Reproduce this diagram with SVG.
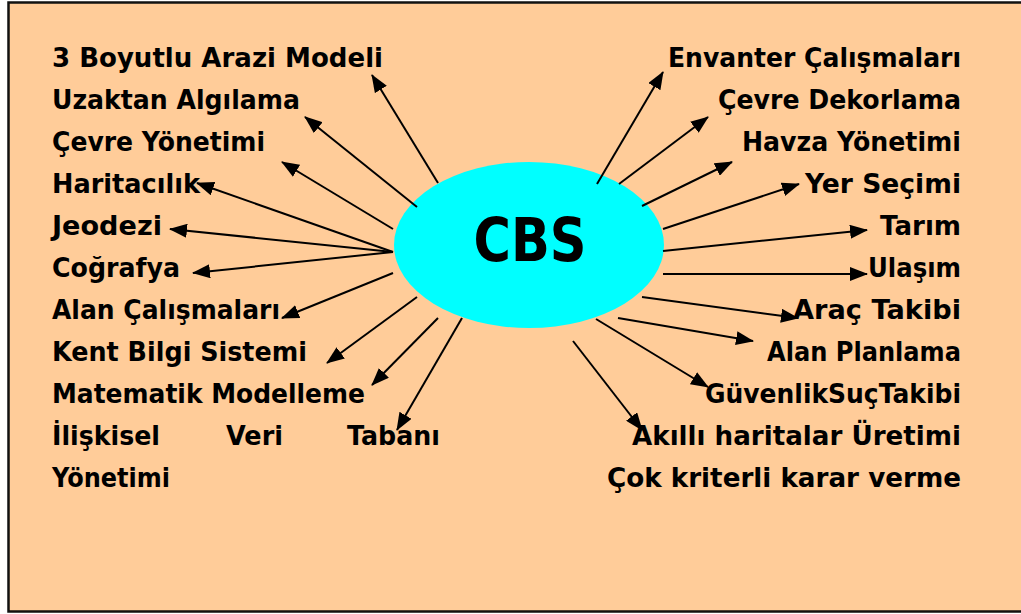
<svg xmlns="http://www.w3.org/2000/svg" width="1021" height="614" viewBox="0 0 1021 614">
<defs>
<style>
.lbl{font-family:"DejaVu Sans","Liberation Sans",sans-serif;font-weight:bold;font-size:27px;fill:#000}
.r{text-anchor:end}
.cbs{font-family:"DejaVu Sans","Liberation Sans",sans-serif;font-weight:bold;font-size:60px;fill:#000;text-anchor:middle}
.con line{stroke:#000;stroke-width:2;marker-end:url(#ah)}
</style>
<marker id="ah" markerWidth="18" markerHeight="14" refX="17" refY="7" orient="auto" markerUnits="userSpaceOnUse"><path d="M0,0 L18,7 L0,14 z" fill="#000"/></marker>
</defs>
<rect x="8.5" y="2.5" width="1020" height="609" fill="#FFCC99" stroke="#111" stroke-width="2.5"/>
<g id="center">
<ellipse cx="529" cy="245" rx="135" ry="83" fill="#00FFFF"/>
<text class="cbs" x="530" y="261" textLength="113" lengthAdjust="spacingAndGlyphs">CBS</text>
</g>
<g class="con" id="connectors">
<line x1="438" y1="183" x2="372" y2="75"/>
<line x1="417" y1="207" x2="305" y2="117"/>
<line x1="393" y1="229" x2="282" y2="162"/>
<line x1="393" y1="252" x2="197" y2="183"/>
<line x1="393" y1="252" x2="170" y2="229"/>
<line x1="393" y1="252" x2="193" y2="273"/>
<line x1="393" y1="273" x2="282" y2="318"/>
<line x1="417" y1="297" x2="327" y2="363"/>
<line x1="438" y1="318" x2="372" y2="385"/>
<line x1="462" y1="318" x2="397" y2="430"/>
<line x1="597" y1="184" x2="663" y2="72"/>
<line x1="619" y1="184" x2="708" y2="117"/>
<line x1="642" y1="206" x2="732" y2="162"/>
<line x1="663" y1="229" x2="799" y2="184"/>
<line x1="663" y1="251" x2="867" y2="230"/>
<line x1="663" y1="274" x2="867" y2="274"/>
<line x1="642" y1="297" x2="798" y2="318"/>
<line x1="618" y1="318" x2="753" y2="341"/>
<line x1="596" y1="319" x2="708" y2="387"/>
<line x1="573" y1="341" x2="642" y2="430"/>
</g>
<g id="left-labels">
<text id="l1" class="lbl" x="52" y="67" textLength="331" lengthAdjust="spacingAndGlyphs">3 Boyutlu Arazi Modeli</text>
<text id="l2" class="lbl" x="52" y="109" textLength="248" lengthAdjust="spacingAndGlyphs">Uzaktan Algılama</text>
<text id="l3" class="lbl" x="52" y="151" textLength="213" lengthAdjust="spacingAndGlyphs">Çevre Yönetimi</text>
<text id="l4" class="lbl" x="52" y="193" textLength="148" lengthAdjust="spacingAndGlyphs">Haritacılık</text>
<text id="l5" class="lbl" x="52" y="235" textLength="110" lengthAdjust="spacingAndGlyphs">Jeodezi</text>
<text id="l6" class="lbl" x="52" y="277" textLength="128" lengthAdjust="spacingAndGlyphs">Coğrafya</text>
<text id="l7" class="lbl" x="52" y="319" textLength="228" lengthAdjust="spacingAndGlyphs">Alan Çalışmaları</text>
<text id="l8" class="lbl" x="52" y="361" textLength="255" lengthAdjust="spacingAndGlyphs">Kent Bilgi Sistemi</text>
<text id="l9" class="lbl" x="52" y="403" textLength="313" lengthAdjust="spacingAndGlyphs">Matematik Modelleme</text>
<g id="l10">
<text class="lbl" x="52" y="445" textLength="108" lengthAdjust="spacingAndGlyphs">İlişkisel</text>
<text class="lbl" x="226" y="445" textLength="57" lengthAdjust="spacingAndGlyphs">Veri</text>
<text class="lbl" x="347" y="445" textLength="93" lengthAdjust="spacingAndGlyphs">Tabanı</text>
<text class="lbl" x="52" y="487" textLength="118" lengthAdjust="spacingAndGlyphs">Yönetimi</text>
</g>
</g>
<g id="right-labels">
<text id="r1" class="lbl r" x="961" y="67" textLength="293" lengthAdjust="spacingAndGlyphs">Envanter Çalışmaları</text>
<text id="r2" class="lbl r" x="961" y="109" textLength="243" lengthAdjust="spacingAndGlyphs">Çevre Dekorlama</text>
<text id="r3" class="lbl r" x="961" y="151" textLength="219" lengthAdjust="spacingAndGlyphs">Havza Yönetimi</text>
<text id="r4" class="lbl r" x="961" y="193" textLength="156" lengthAdjust="spacingAndGlyphs">Yer Seçimi</text>
<text id="r5" class="lbl r" x="961" y="235" textLength="81" lengthAdjust="spacingAndGlyphs">Tarım</text>
<text id="r6" class="lbl r" x="961" y="277" textLength="93" lengthAdjust="spacingAndGlyphs">Ulaşım</text>
<text id="r7" class="lbl r" x="961" y="319" textLength="168" lengthAdjust="spacingAndGlyphs">Araç Takibi</text>
<text id="r8" class="lbl r" x="961" y="361" textLength="194" lengthAdjust="spacingAndGlyphs">Alan Planlama</text>
<text id="r9" class="lbl r" x="961" y="403" textLength="256" lengthAdjust="spacingAndGlyphs">GüvenlikSuçTakibi</text>
<text id="r10" class="lbl r" x="961" y="445" textLength="329" lengthAdjust="spacingAndGlyphs">Akıllı haritalar Üretimi</text>
<text id="r11" class="lbl r" x="961" y="487" textLength="354" lengthAdjust="spacingAndGlyphs">Çok kriterli karar verme</text>
</g>
</svg>
